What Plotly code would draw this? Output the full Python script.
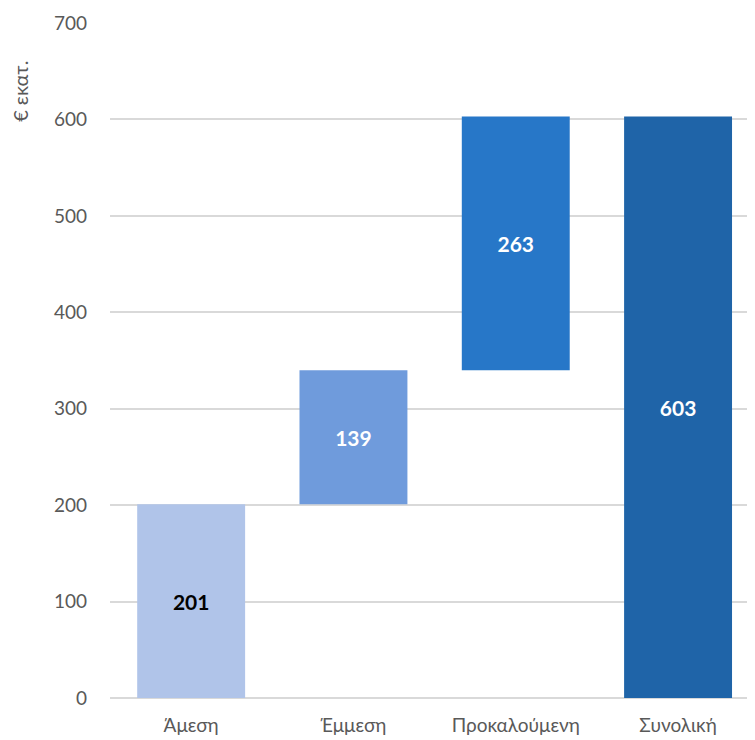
import plotly.graph_objects as go

categories = ["Άμεση", "Έμμεση", "Προκαλούμενη", "Συνολική"]
values = [201, 139, 263, 603]
is_total = [False, False, False, True]
colors = ["#B0C4E9", "#6F9BDC", "#2777C8", "#1F64A8"]
label_colors = ["#000000", "#FFFFFF", "#FFFFFF", "#FFFFFF"]
y_ticks = [0, 100, 200, 300, 400, 500, 600, 700]
y_title = "€ εκατ."

# cumulative bases for the floating bars
bases = []
running = 0
for v, t in zip(values, is_total):
    if t:
        bases.append(0)
    else:
        bases.append(running)
        running += v

fig = go.Figure(
    go.Bar(
        x=categories,
        y=values,
        base=bases,
        marker=dict(color=colors, line=dict(width=0)),
        width=0.665,
        text=[str(v) for v in values],
        textposition="inside",
        insidetextanchor="middle",
        textangle=0,
        textfont=dict(family="Lato", size=21, color=label_colors, weight="bold"),
        hoverinfo="skip",
    )
)

fig.update_layout(
    width=747,
    height=732,
    margin=dict(l=102, r=0, t=15, b=42),
    paper_bgcolor="white",
    plot_bgcolor="white",
    showlegend=False,
    font=dict(family="Lato", size=19, color="#595959"),
    xaxis=dict(
        automargin=False,
        range=[-0.5, 3.474],
        showgrid=False,
        showline=False,
        ticks="",
        ticklabelstandoff=14,
        tickfont=dict(family="Lato", size=19, color="#595959"),
    ),
    yaxis=dict(
        automargin=False,
        range=[0, 700],
        tickvals=y_ticks,
        showgrid=True,
        gridcolor="#D9D9D9",
        gridwidth=1.5,
        zeroline=True,
        zerolinecolor="#D9D9D9",
        zerolinewidth=1.5,
        showline=False,
        ticks="",
        ticklabelstandoff=22,
        tickfont=dict(family="Lato", size=19, color="#595959"),
    ),
    annotations=[
        dict(
            text=y_title,
            xref="paper",
            yref="paper",
            x=-0.1395,
            y=0.898,
            textangle=-90,
            showarrow=False,
            font=dict(family="Lato", size=20, color="#595959"),
            xanchor="center",
            yanchor="middle",
        )
    ],
)

fig.write_html("out.html")
